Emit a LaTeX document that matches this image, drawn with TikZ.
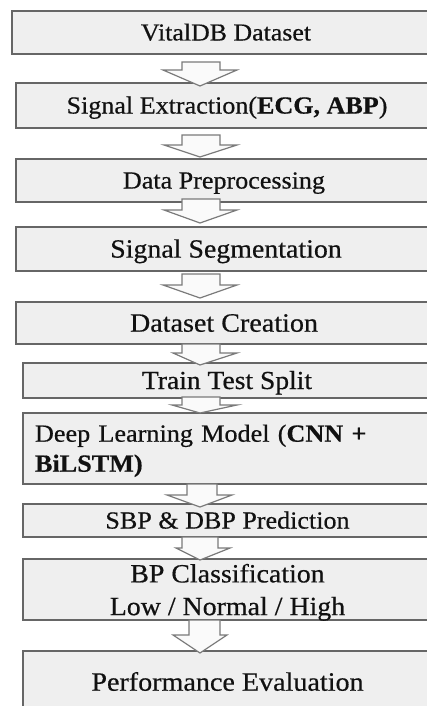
\documentclass[tikz,border=0pt]{standalone}
\usepackage{fontspec}
\setmainfont{Liberation Serif}[FakeStretch=1.06, FakeBold=0.5]
\usetikzlibrary{calc}

\definecolor{boxfill}{HTML}{EFEFEF}
\definecolor{boxline}{HTML}{666666}
\definecolor{arrowline}{HTML}{7A7A7A}
\definecolor{arrowfill}{HTML}{FAFAFA}
\definecolor{ink}{HTML}{111111}

\tikzset{
  stage/.style={draw=boxline, fill=boxfill, line width=1.5pt, inner sep=0pt,
    outer sep=0pt, text=ink, text depth=0pt},
  blockarrow/.style={draw=arrowline, fill=arrowfill, line width=1.2pt, line join=miter},
}

% stage box: name, left, top, right, bottom, options, text
\newcommand\stagebox[7]{%
  \node[stage, #6, minimum width={#4-#2}, minimum height={#5-#3}]
    (#1) at ({(#2+#4)/2},{(#3+#5)/2}) {#7};
}

% hollow block arrow from one box to the next:
% from, to, top gap, head length, tip offset, stem left, stem right, head left, head right
\newcommand\flowarrow[9]{%
  \coordinate (top) at ($(ax|-#1.south)+(0,#3)$);
  \coordinate (tip) at ($(ax|-#2.north)+(0,#5)$);
  \draw[blockarrow] ($(top)+(#6,0)$) -- ($(top)+(#7,0)$) -- ($(tip)+(#7,-#4)$)
    -- ($(tip)+(#9,-#4)$) -- (tip) -- ($(tip)+(#8,-#4)$) -- ($(tip)+(#6,-#4)$) -- cycle;
}

\begin{document}
\begin{tikzpicture}[x=1pt, y=-1pt]
  \useasboundingbox (0,0) rectangle (427,706);
  \coordinate (ax) at (200,0);

  \stagebox{b1}{12}{11}{440}{54}{font=\fontsize{24.4pt}{29pt}\selectfont, text height=16.0pt}{VitalDB Dataset}
  \stagebox{b2}{16}{83}{438}{128}{font=\fontsize{24.6pt}{29pt}\selectfont, text height=16.1pt}{Signal Extraction(\textbf{ECG, ABP})}
  \stagebox{b3}{16}{159}{432}{202}{font=\fontsize{24.6pt}{29pt}\selectfont, text height=16.1pt}{Data Preprocessing}
  \stagebox{b4}{16}{227}{436}{271}{font=\fontsize{26.3pt}{31pt}\selectfont, text height=17.2pt}{Signal Segmentation}
  \stagebox{b5}{16}{302}{432}{344}{font=\fontsize{26.5pt}{31pt}\selectfont, text height=17.4pt}{Dataset Creation}
  \stagebox{b6}{23}{363}{431}{398}{font=\fontsize{26.0pt}{31pt}\selectfont, text height=17.0pt}{Train Test Split}
  \stagebox{b7}{23}{413}{440}{484}{font=\fontsize{24.7pt}{30pt}\selectfont, text width=393pt, inner xsep=12pt, align=left, text height=17pt, text depth=30.6pt}{Deep Learning Model (\textbf{CNN +}\\\textbf{BiLSTM)}}
  \stagebox{b8}{23}{504}{432}{537}{font=\fontsize{24.6pt}{29pt}\selectfont, text height=16.1pt}{SBP \& DBP Prediction}
  \stagebox{b9}{23}{559}{432}{620}{font=\fontsize{26.3pt}{32.7pt}\selectfont, align=center}{BP Classification\\Low / Normal / High}
  \stagebox{b10}{23}{651}{432}{713}{font=\fontsize{26.5pt}{31pt}\selectfont, text height=17.4pt}{Performance Evaluation}

  \flowarrow{b1}{b2}{8}{16}{3}{-18}{20}{-37}{37}
  \flowarrow{b2}{b3}{7}{12}{-2}{-18}{20}{-36}{37}
  \flowarrow{b3}{b4}{-3}{13}{-4}{-18}{20}{-36}{37}
  \flowarrow{b4}{b5}{3}{13}{-4}{-18}{20}{-37}{37}
  \flowarrow{b5}{b6}{0}{12}{2}{-18}{20}{-27}{37}
  \flowarrow{b6}{b7}{-1}{8}{0}{-18}{20}{-28}{37}
  \flowarrow{b7}{b8}{0}{12}{3}{-13}{17}{-33}{32}
  \flowarrow{b8}{b9}{0}{12}{1}{-18}{18}{-24}{30}
  \flowarrow{b9}{b10}{0}{18}{2}{-11}{20}{-27}{27}
\end{tikzpicture}
\end{document}
